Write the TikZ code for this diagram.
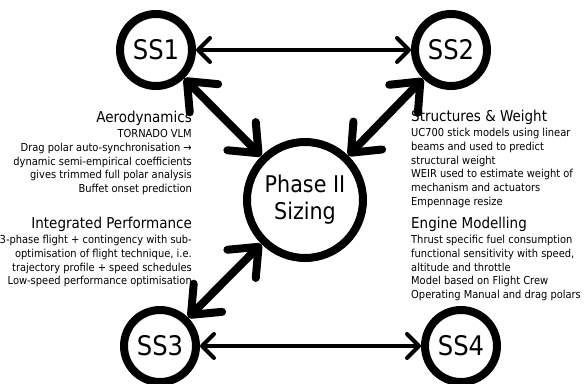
\documentclass[tikz,border=0pt]{standalone}
\usepackage{fontspec}
\setmainfont{DejaVu Sans Condensed}
\usetikzlibrary{arrows.meta}
\tikzset{%
  subsys/.style  = {shape=circle, draw, line width=8pt, inner sep=0pt,%
                    minimum size=72pt, font=\fontsize{27}{30}\selectfont},%
  core/.style    = {subsys, minimum size=116pt, align=center,%
                    font=\fontsize{23}{27}\selectfont},%
  link/.style    = {line width=4pt, line cap=round,%
                    >={Straight Barb[length=12pt,width=24pt,round]}, <->},%
  bond/.style    = {line width=8pt, line cap=round,%
                    >={Straight Barb[length=24pt,width=40pt,round]}, <->},%
  notes/.style   = {inner sep=0pt, font=\fontsize{11}{13.7}\selectfont}%
}
\newcommand{\blockhead}[1]{{\fontsize{15}{15}\selectfont #1}\\[1.5pt]}

\begin{document}
\begin{tikzpicture}[x=1pt,y=-1pt]
	\useasboundingbox (0,0) rectangle (585,383);
	% subsystems and the sizing hub
	\node [subsys] (ss1) at (156,50)  {SS1};
	\node [subsys] (ss2) at (451,50)  {SS2};
	\node [subsys] (ss3) at (160,346) {SS3};
	\node [subsys] (ss4) at (461,346) {SS4};
	\node [core]   (phase) at (305,200) {Phase II\\Sizing};
	% links
	\draw [link] (ss1) -- (ss2);
	\draw [link] (ss3) -- (ss4);
	\draw [bond] (ss1) -- (phase);
	\draw [bond] (ss2) -- (phase);
	\draw [bond] (ss3) -- (phase);
	% descriptions
	\node [notes, anchor=north east, align=right] (aero) at (192,111)
		{\blockhead{Aerodynamics}TORNADO VLM\\
		 Drag polar auto-synchronisation \textrightarrow\\
		 dynamic semi-empirical coefficients\\
		 gives trimmed full polar analysis\\
		 Buffet onset prediction};
	\node [notes, anchor=north east, align=right] (perf) at (192,217)
		{\blockhead{Integrated Performance}3-phase flight + contingency with sub-\\
		 optimisation of flight technique, i.e.\\
		 trajectory profile + speed schedules\\
		 Low-speed performance optimisation};
	\node [notes, anchor=north west, align=left] (struct) at (411,110)
		{\blockhead{Structures \& Weight}UC700 stick models using linear\\
		 beams and used to predict\\
		 structural weight\\
		 WEIR used to estimate weight of\\
		 mechanism and actuators\\
		 Empennage resize};
	\node [notes, anchor=north west, align=left] (engine) at (411,217)
		{\blockhead{Engine Modelling}Thrust specific fuel consumption\\
		 functional sensitivity with speed,\\
		 altitude and throttle\\
		 Model based on Flight Crew\\
		 Operating Manual and drag polars};
\end{tikzpicture}
\end{document}
